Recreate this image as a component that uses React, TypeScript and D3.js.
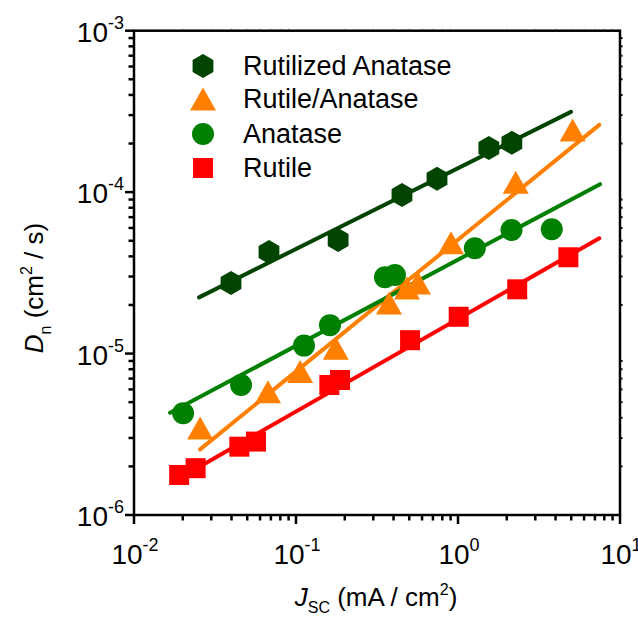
import React from "react";
import * as d3 from "d3";

// Short-circuit current density (mA/cm^2) and electron diffusion coefficient (cm^2/s)
const rutilizedJ = [0.0397, 0.0681, 0.182, 0.451, 0.742, 1.55, 2.15];
const rutilizedD = [2.74e-5, 4.26e-5, 5.06e-5, 9.6e-5, 1.21e-4, 1.88e-4, 2.02e-4];

const mixedJ = [0.0256, 0.0672, 0.106, 0.176, 0.375, 0.484, 0.566, 0.905, 2.27, 5.1];
const mixedD = [3.46e-6, 5.81e-6, 7.73e-6, 1.08e-5, 2.06e-5, 2.55e-5, 2.74e-5, 4.85e-5, 1.15e-4, 2.43e-4];

const anataseJ = [0.0201, 0.0458, 0.112, 0.162, 0.354, 0.408, 1.27, 2.14, 3.79];
const anataseD = [4.27e-6, 6.39e-6, 1.12e-5, 1.5e-5, 2.97e-5, 3.07e-5, 4.49e-5, 5.83e-5, 5.89e-5];

const rutileJ = [0.019, 0.024, 0.0447, 0.0566, 0.1606, 0.187, 0.506, 1.01, 2.32, 4.8];
const rutileD = [1.77e-6, 1.95e-6, 2.65e-6, 2.85e-6, 6.39e-6, 6.86e-6, 1.21e-5, 1.69e-5, 2.5e-5, 3.95e-5];

// Power-law fit lines: [start, end]
const rutilizedFitJ = [0.0252, 4.98];
const rutilizedFitD = [2.23e-5, 3.14e-4];
const mixedFitJ = [0.0256, 7.45];
const mixedFitD = [2.55e-6, 2.61e-4];
const anataseFitJ = [0.0167, 7.53];
const anataseFitD = [4.3e-6, 1.12e-4];
const rutileFitJ = [0.0249, 7.45];
const rutileFitD = [1.97e-6, 5.18e-5];

const seriesNames = ["Rutilized Anatase", "Rutile/Anatase", "Anatase", "Rutile"];
const xDecades = [-2, -1, 0, 1];
const yDecades = [-6, -5, -4, -3];

type Shape = "hexagon" | "triangle" | "circle" | "square";

const series = [
  { name: seriesNames[0], shape: "hexagon" as Shape, color: "#004400", J: rutilizedJ, D: rutilizedD, fJ: rutilizedFitJ, fD: rutilizedFitD },
  { name: seriesNames[1], shape: "triangle" as Shape, color: "#ff8000", J: mixedJ, D: mixedD, fJ: mixedFitJ, fD: mixedFitD },
  { name: seriesNames[2], shape: "circle" as Shape, color: "#008000", J: anataseJ, D: anataseD, fJ: anataseFitJ, fD: anataseFitD },
  { name: seriesNames[3], shape: "square" as Shape, color: "#ff0000", J: rutileJ, D: rutileD, fJ: rutileFitJ, fD: rutileFitD },
];

const W = 638;
const H = 617;
const left = 134;
const right = 620;
const top = 30.7;
const bottom = 515;
const FONT = "Arial, 'Liberation Sans', sans-serif";

function Marker({ shape, x, y, color }: { shape: Shape; x: number; y: number; color: string }) {
  if (shape === "circle") return <circle cx={x} cy={y} r={11} fill={color} />;
  if (shape === "square") return <rect x={x - 10} y={y - 10} width={20} height={20} fill={color} />;
  if (shape === "triangle") {
    const h = 23, b = 13;
    return <path d={`M${x},${y - h / 2}L${x + b},${y + h / 2}L${x - b},${y + h / 2}Z`} fill={color} />;
  }
  const r = 12;
  const pts = d3.range(6).map((i) => {
    const a = -Math.PI / 2 + (i * Math.PI) / 3;
    return [x + r * Math.cos(a), y + r * Math.sin(a)];
  });
  return <path d={"M" + pts.map((p) => p.join(",")).join("L") + "Z"} fill={color} />;
}

export default function App() {
  const x = d3.scaleLog().domain([1e-2, 1e1]).range([left, right]);
  const y = d3.scaleLog().domain([1e-6, 1e-3]).range([bottom, top]);
  const line = d3
    .line<[number, number]>()
    .x((d) => x(d[0]))
    .y((d) => y(d[1]));

  const minorX: number[] = [];
  xDecades.slice(0, -1).forEach((e) => {
    for (let m = 2; m <= 9; m++) minorX.push(m * Math.pow(10, e));
  });
  const minorY: number[] = [];
  yDecades.slice(0, -1).forEach((e) => {
    for (let m = 2; m <= 9; m++) minorY.push(m * Math.pow(10, e));
  });

  const legendX = 203;
  const legendY = [66, 99, 134, 168];

  return (
    <svg width={W} height={H} style={{ position: "absolute", left: 0, top: 0, background: "#fff" }} fontFamily={FONT}>
      <rect width={W} height={H} fill="#fff" />
      {/* fit lines */}
      {series.map((s) => (
        <path
          key={s.name + "-fit"}
          d={line(s.fJ.map((j, i) => [j, s.fD[i]]) as [number, number][]) || ""}
          stroke={s.color}
          strokeWidth={4}
          strokeLinecap="round"
          fill="none"
        />
      ))}
      {/* data markers */}
      {[3, 2, 1, 0].map((k) => {
        const s = series[k];
        return (
          <g key={s.name}>
            {s.J.map((j, i) => (
              <Marker key={i} shape={s.shape} x={x(j)} y={y(s.D[i])} color={s.color} />
            ))}
          </g>
        );
      })}

      {/* frame */}
      <rect x={left} y={top} width={right - left} height={bottom - top} fill="none" stroke="#000" strokeWidth={2.5} />

      {/* bottom axis ticks */}
      {xDecades.map((e) => (
        <line key={"xM" + e} x1={x(Math.pow(10, e))} x2={x(Math.pow(10, e))} y1={bottom} y2={bottom + 9} stroke="#000" strokeWidth={2.5} />
      ))}
      {minorX.map((v, i) => (
        <line key={"xm" + i} x1={x(v)} x2={x(v)} y1={bottom} y2={bottom + 5.5} stroke="#000" strokeWidth={2.5} />
      ))}
      {/* top axis ticks */}
      {minorX.map((v, i) => (
        <line key={"xt" + i} x1={x(v)} x2={x(v)} y1={top} y2={top - 2} stroke="#000" strokeWidth={1} opacity={0.35} />
      ))}
      {/* left axis ticks */}
      {yDecades.map((e) => (
        <line key={"yM" + e} x1={left - 9} x2={left} y1={y(Math.pow(10, e))} y2={y(Math.pow(10, e))} stroke="#000" strokeWidth={2.5} />
      ))}
      {minorY.map((v, i) => (
        <line key={"ym" + i} x1={left - 5.5} x2={left} y1={y(v)} y2={y(v)} stroke="#000" strokeWidth={2.5} />
      ))}
      {/* right axis ticks */}
      {minorY.map((v, i) => (
        <line key={"yr" + i} x1={right} x2={right + 2.5} y1={y(v)} y2={y(v)} stroke="#000" strokeWidth={2} />
      ))}

      {/* tick labels */}
      {xDecades.map((e) => (
        <text key={"xl" + e} x={x(Math.pow(10, e)) + 1} y={bottom + 49} textAnchor="middle" fontSize={28} fill="#000">
          10
          <tspan fontSize={18} dy={-13}>{e}</tspan>
        </text>
      ))}
      {yDecades.map((e) => (
        <text key={"yl" + e} x={left - 10} y={y(Math.pow(10, e)) + 11} textAnchor="end" fontSize={28} fill="#000">
          10
          <tspan fontSize={18} dy={-13}>{e}</tspan>
        </text>
      ))}

      {/* axis titles */}
      <text x={376} y={606} textAnchor="middle" fontSize={26} fill="#000">
        <tspan fontStyle="italic">J</tspan>
        <tspan fontSize={16} dy={7}>SC</tspan>
        <tspan dy={-7}> (mA / cm</tspan>
        <tspan fontSize={16} dy={-11}>2</tspan>
        <tspan dy={11}>)</tspan>
      </text>
      <text transform="translate(43,288) rotate(-90)" textAnchor="middle" fontSize={26} fill="#000">
        <tspan fontStyle="italic">D</tspan>
        <tspan fontSize={16} dy={8}>n</tspan>
        <tspan dy={-8}> (cm</tspan>
        <tspan fontSize={16} dy={-11}>2</tspan>
        <tspan dy={11}> / s)</tspan>
      </text>

      {/* legend */}
      {series.map((s, i) => (
        <g key={"lg" + s.name}>
          <Marker shape={s.shape} x={legendX} y={legendY[i]} color={s.color} />
          <text x={243} y={legendY[i] + 9} fontSize={27} fill="#000">
            {s.name}
          </text>
        </g>
      ))}
    </svg>
  );
}
